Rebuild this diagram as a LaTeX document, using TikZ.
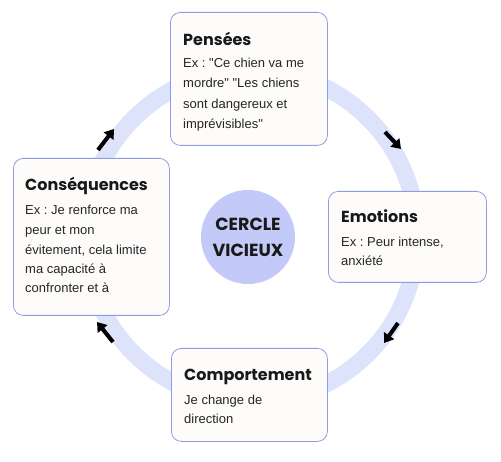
\documentclass[tikz,border=0pt]{standalone}
\usepackage{fontspec}
\setmainfont{Liberation Sans}[Ligatures=TeXOff]
\newfontfamily\titlefont{Poppins}
\usetikzlibrary{arrows.meta}
\definecolor{ringc}{HTML}{DDE3FB}
\definecolor{boxborder}{HTML}{8E9CE4}
\definecolor{boxfill}{HTML}{FDFCFA}
\definecolor{centerfill}{HTML}{C4CAF8}
\newcommand\qq{\symbol{34}}
\frenchspacing
\begin{document}
\begin{tikzpicture}[x=1pt,y=-1pt,
  card/.style={draw=boxborder, fill=boxfill, line width=0.8pt, rounded corners=10pt, anchor=north west, inner sep=0pt},
  ttl/.style={anchor=base west, inner sep=0pt, font=\titlefont\bfseries\fontsize{16}{20}\selectfont, text=black!90},
  bodyt/.style={anchor=base west, inner sep=0pt, font=\frenchspacing\fontsize{13}{20}\selectfont, text=black!85},
  cyc/.style={-{Triangle[length=9pt,width=12pt]}, line width=4pt, black}]
\fill[white] (0,0) rectangle (501,462);
\useasboundingbox (0,0) rectangle (501,462);
% ring
\draw[ringc, line width=17pt] (251,236) circle[radius=166];
% arrows on ring
\coordinate (a1s) at (98,150); \coordinate (a1e) at (114,129);
\coordinate (a2s) at (385,132); \coordinate (a2e) at (401,149);
\coordinate (a3s) at (398,323); \coordinate (a3e) at (384,343);
\coordinate (a4s) at (113,342); \coordinate (a4e) at (97,322);
\draw[cyc] (a1s) -- (a1e);
\draw[cyc] (a2s) -- (a2e);
\draw[cyc] (a3s) -- (a3e);
\draw[cyc] (a4s) -- (a4e);
% center
\node[circle, fill=centerfill, minimum size=94pt, inner sep=0pt, align=center,
  font=\titlefont\fontseries{sb}\selectfont\fontsize{17.5}{26}\selectfont, text=black!90] (cc) at (248,237) {CERCLE\\VICIEUX};
% boxes
\node[card, minimum width=157pt, minimum height=133pt] (P) at (170,12) {};
\node[card, minimum width=156pt, minimum height=157pt] (C) at (13,158) {};
\node[card, minimum width=158pt, minimum height=91pt] (E) at (328,191) {};
\node[card, minimum width=156pt, minimum height=93pt] (B) at (171,348) {};
% Pensees
\node[ttl] (Pt) at ([xshift=13pt,yshift=-34pt]P.north west) {Pensées};
\node[bodyt] (P1) at ([xshift=13pt,yshift=-56pt]P.north west) {Ex : \qq Ce chien va me};
\node[bodyt] (P2) at ([xshift=13pt,yshift=-76pt]P.north west) {mordre\qq{} \qq Les chiens};
\node[bodyt] (P3) at ([xshift=13pt,yshift=-96.5pt]P.north west) {sont dangereux et};
\node[bodyt] (P4) at ([xshift=13pt,yshift=-117pt]P.north west) {imprévisibles\qq};
% Consequences
\node[ttl] (Ct) at ([xshift=12pt,yshift=-33pt]C.north west) {Conséquences};
\node[bodyt] (C1) at ([xshift=12pt,yshift=-57pt]C.north west) {Ex : Je renforce ma};
\node[bodyt] (C2) at ([xshift=12pt,yshift=-77pt]C.north west) {peur et mon};
\node[bodyt] (C3) at ([xshift=12pt,yshift=-97pt]C.north west) {évitement, cela limite};
\node[bodyt] (C4) at ([xshift=12pt,yshift=-116pt]C.north west) {ma capacité à};
\node[bodyt] (C5) at ([xshift=12pt,yshift=-135pt]C.north west) {confronter et à};
% Emotions
\node[ttl] (Et) at ([xshift=13pt,yshift=-32pt]E.north west) {Emotions};
\node[bodyt] (E1) at ([xshift=13pt,yshift=-56pt]E.north west) {Ex : Peur intense,};
\node[bodyt] (E2) at ([xshift=13pt,yshift=-75pt]E.north west) {anxiété};
% Comportement
\node[ttl] (Bt) at ([xshift=13pt,yshift=-33pt]B.north west) {Comportement};
\node[bodyt] (B1) at ([xshift=13pt,yshift=-57pt]B.north west) {Je change de};
\node[bodyt] (B2) at ([xshift=13pt,yshift=-76pt]B.north west) {direction};
\end{tikzpicture}
\end{document}
